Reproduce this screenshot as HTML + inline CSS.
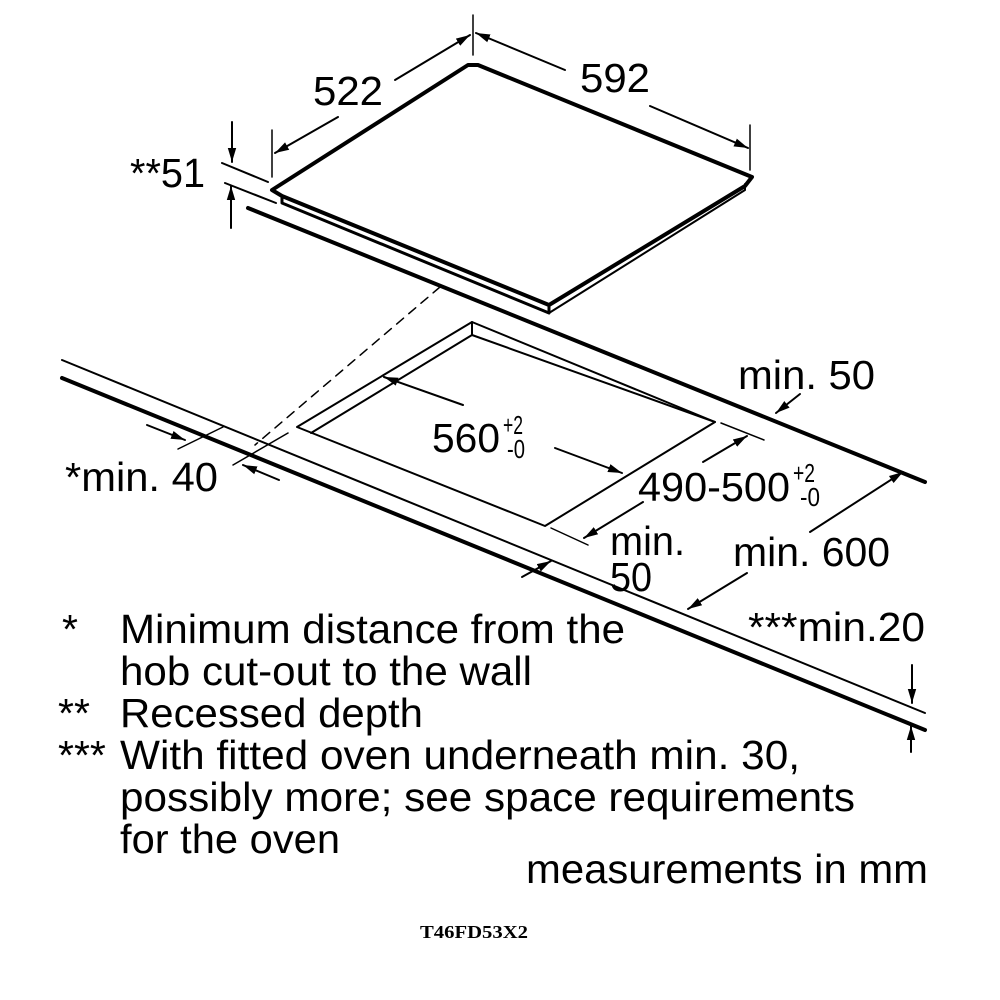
<!DOCTYPE html>
<html><head><style>html,body{margin:0;padding:0;background:#fff}svg{display:block}</style></head>
<body>
<svg width="1000" height="1000" viewBox="0 0 1000 1000" xmlns="http://www.w3.org/2000/svg">
<defs>
<marker id="a" viewBox="0 0 10 10" refX="10" refY="5" markerWidth="14" markerHeight="14" markerUnits="userSpaceOnUse" orient="auto-start-reverse"><path d="M0,2 L10,5 L0,8 z" fill="#000"/></marker>
</defs>
<g fill="none" stroke="#000" stroke-linejoin="round" stroke-linecap="round">
<path d="M272,190 L468,65 L478,65 L752,177 L745,186 L549,305 L282,196 Z" stroke-width="4" fill="#fff"/>
<path d="M282,196 L282,203 L549,313 L549,305" stroke-width="3"/>
<path d="M549,313 L745,190 L745,184" stroke-width="2"/>
<line x1="248" y1="208" x2="925" y2="482" stroke-width="4"/>
<line x1="62" y1="360" x2="925" y2="713" stroke-width="2"/>
<line x1="62" y1="378" x2="925" y2="730" stroke-width="4"/>
<line x1="440" y1="287" x2="255" y2="445" stroke-width="1.5" stroke-dasharray="9,7"/>
<path d="M472,322 L715,422 L545,526 L297,427 Z" stroke-width="2"/>
<path d="M472,322 L472,335 L311,433 M472,335 L715,422" stroke-width="2"/>
<line x1="222" y1="163" x2="268" y2="182" stroke-width="2"/>
<line x1="225" y1="183" x2="276" y2="203" stroke-width="2"/>
<line x1="232" y1="122" x2="232" y2="162" stroke-width="2" marker-end="url(#a)"/>
<line x1="231" y1="228" x2="231" y2="186" stroke-width="2" marker-end="url(#a)"/>
<line x1="272" y1="130" x2="272" y2="177" stroke-width="1.5"/>
<line x1="473" y1="15" x2="473" y2="55" stroke-width="1.5"/>
<line x1="338" y1="117" x2="275" y2="153" stroke-width="2" marker-end="url(#a)"/>
<line x1="395" y1="80" x2="470" y2="35" stroke-width="2" marker-end="url(#a)"/>
<line x1="750" y1="125" x2="750" y2="170" stroke-width="1.5"/>
<line x1="565" y1="70" x2="476" y2="33" stroke-width="2" marker-end="url(#a)"/>
<line x1="650" y1="106" x2="748" y2="148" stroke-width="2" marker-end="url(#a)"/>
<line x1="800" y1="394" x2="776" y2="413" stroke-width="2" marker-end="url(#a)"/>
<line x1="463" y1="405" x2="384" y2="377" stroke-width="2" marker-end="url(#a)"/>
<line x1="555" y1="448" x2="622" y2="473" stroke-width="2" marker-end="url(#a)"/>
<line x1="721" y1="423" x2="764" y2="440" stroke-width="1.5"/>
<line x1="551" y1="528" x2="588" y2="545" stroke-width="1.5"/>
<line x1="703" y1="462" x2="747" y2="436" stroke-width="2" marker-end="url(#a)"/>
<line x1="643" y1="502" x2="584" y2="538" stroke-width="2" marker-end="url(#a)"/>
<line x1="522" y1="577" x2="551" y2="561" stroke-width="2" marker-end="url(#a)"/>
<line x1="810" y1="532" x2="903" y2="472" stroke-width="2" marker-end="url(#a)"/>
<line x1="747" y1="573" x2="688" y2="609" stroke-width="2" marker-end="url(#a)"/>
<line x1="178" y1="449" x2="223" y2="427" stroke-width="1.5"/>
<line x1="233" y1="465" x2="288" y2="433" stroke-width="1.5"/>
<line x1="147" y1="425" x2="185" y2="440" stroke-width="2" marker-end="url(#a)"/>
<line x1="279" y1="480" x2="243" y2="465" stroke-width="2" marker-end="url(#a)"/>
<line x1="912" y1="665" x2="912" y2="703" stroke-width="2" marker-end="url(#a)"/>
<line x1="911" y1="752" x2="911" y2="726" stroke-width="2" marker-end="url(#a)"/>
</g>
<g font-family="Liberation Sans, sans-serif" font-size="41" fill="#000">
<text x="313" y="105" textLength="70" lengthAdjust="spacingAndGlyphs">522</text>
<text x="580" y="92" textLength="70" lengthAdjust="spacingAndGlyphs">592</text>
<text x="130" y="187" textLength="75" lengthAdjust="spacingAndGlyphs">**51</text>
<text x="738" y="389" textLength="137" lengthAdjust="spacingAndGlyphs">min. 50</text>
<text x="432" y="452" textLength="68" lengthAdjust="spacingAndGlyphs">560</text>
<text x="503" y="434" font-size="26" textLength="20" lengthAdjust="spacingAndGlyphs">+2</text>
<text x="507" y="458" font-size="26" textLength="18" lengthAdjust="spacingAndGlyphs">-0</text>
<text x="638" y="501" textLength="152" lengthAdjust="spacingAndGlyphs">490-500</text>
<text x="793" y="482" font-size="26" textLength="22" lengthAdjust="spacingAndGlyphs">+2</text>
<text x="800" y="506" font-size="26" textLength="20" lengthAdjust="spacingAndGlyphs">-0</text>
<text x="65" y="491" textLength="153" lengthAdjust="spacingAndGlyphs">*min. 40</text>
<text x="610" y="555" textLength="75" lengthAdjust="spacingAndGlyphs">min.</text>
<text x="610" y="591" textLength="42" lengthAdjust="spacingAndGlyphs">50</text>
<text x="733" y="566" textLength="157" lengthAdjust="spacingAndGlyphs">min. 600</text>
<text x="748" y="641" textLength="177" lengthAdjust="spacingAndGlyphs">***min.20</text>
<text x="62" y="643">*</text>
<text x="120" y="643" textLength="505" lengthAdjust="spacingAndGlyphs">Minimum distance from the</text>
<text x="120" y="685" textLength="412" lengthAdjust="spacingAndGlyphs">hob cut-out to the wall</text>
<text x="58" y="727">**</text>
<text x="120" y="727" textLength="303" lengthAdjust="spacingAndGlyphs">Recessed depth</text>
<text x="58" y="769">***</text>
<text x="120" y="769" textLength="680" lengthAdjust="spacingAndGlyphs">With fitted oven underneath min. 30,</text>
<text x="120" y="811" textLength="735" lengthAdjust="spacingAndGlyphs">possibly more; see space requirements</text>
<text x="120" y="853" textLength="220" lengthAdjust="spacingAndGlyphs">for the oven</text>
<text x="526" y="883" textLength="402" lengthAdjust="spacingAndGlyphs">measurements in mm</text>
</g>
<text x="420" y="938" font-family="Liberation Serif, serif" font-size="18" font-weight="bold" textLength="108" lengthAdjust="spacingAndGlyphs">T46FD53X2</text>
</svg>
</body></html>
